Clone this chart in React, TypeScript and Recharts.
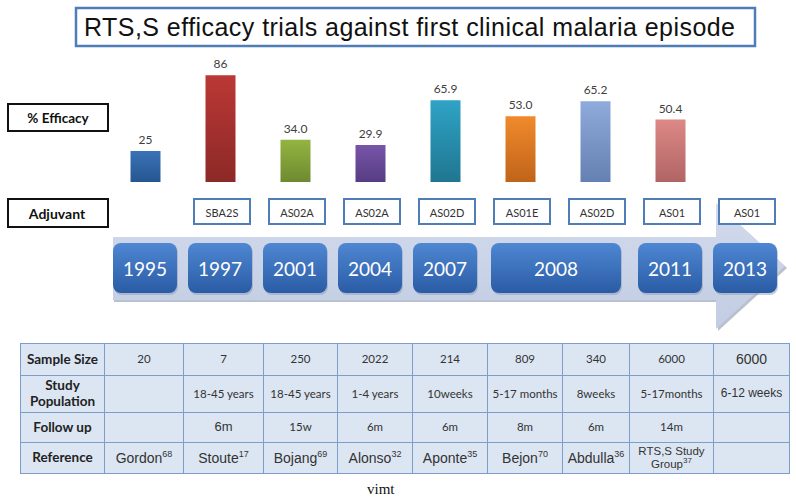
import React from 'react';
import { BarChart, Bar, XAxis, YAxis, Cell, LabelList } from 'recharts';

// ---------- data ----------
const years = ['1995', '1997', '2001', '2004', '2007', '2008', '2008', '2011', '2013'];
const efficacy: (number | null)[] = [25, 86, 34.0, 29.9, 65.9, 53.0, 65.2, 50.4, null];
const efficacyLabels = ['25', '86', '34.0', '29.9', '65.9', '53.0', '65.2', '50.4', ''];
const adjuvants = ['', 'SBA2S', 'AS02A', 'AS02A', 'AS02D', 'AS01E', 'AS02D', 'AS01', 'AS01'];
const barTop = ['#3b72b8', '#bb3835', '#93b442', '#7755a8', '#2fa3c6', '#f08a2c', '#8eabdb', '#dc8886', '#999'];
const barBottom = ['#25568f', '#8c2927', '#6e8a2f', '#573c83', '#1f7690', '#c0641a', '#6580b2', '#b06564', '#777'];

const sampleSize = ['20', '7', '250', '2022', '214', '809', '340', '6000', '6000'];
const population = ['', '18-45 years', '18-45 years', '1-4 years', '10weeks', '5-17 months', '8weeks', '5-17months', '6-12 weeks'];
const followUp = ['', '6m', '15w', '6m', '6m', '8m', '6m', '14m', ''];
const refNames = ['Gordon', 'Stoute', 'Bojang', 'Alonso', 'Aponte', 'Bejon', 'Abdulla', 'RTS,S Study Group', ''];
const refNums = ['68', '17', '69', '32', '35', '70', '36', '37', ''];
const rowHeaders = ['Sample Size', 'Study Population', 'Follow up', 'Reference'];

const titleText = 'RTS,S efficacy trials against first clinical malaria episode';

const data = years.map((y, i) => ({
  idx: i,
  year: y,
  efficacy: efficacy[i],
  label: efficacyLabels[i],
  adjuvant: adjuvants[i],
}));

// ---------- layout ----------
const W = 796;
const H = 499;
const PLOT_LEFT = 107.5;
const PLOT_RIGHT = 782.5;
const PLOT_TOP = 58;
const PLOT_BOTTOM = 182;
const AXIS_H = 130;
const BAND = (PLOT_RIGHT - PLOT_LEFT) / years.length;
const CAL = 'Lato, "Open Sans", sans-serif';
const ARIAL = '"Liberation Sans", Arial, sans-serif';

const colWidths = [84, 79, 80, 74, 75, 75, 75, 67, 84, 76];
const rowHeights = [32, 37, 30, 31];

function AxisTick(props: any) {
  const { x, y, payload } = props;
  const i = payload.value as number;
  const adj = adjuvants[i];
  const yr = years[i];
  const els: React.ReactNode[] = [];
  if (adj) {
    const w = 56;
    const cx = x + 2;
    els.push(
      <g key="adj">
        <rect x={cx - w / 2} y={y + 17} width={w} height={25} fill="#fff" stroke="#4f7db8" strokeWidth={2} />
        <text x={cx} y={y + 30} textAnchor="middle" dominantBaseline="central" fontFamily={CAL} fontSize={11} fill="#333">
          {adj}
        </text>
      </g>
    );
  }
  const prevSame = i > 0 && years[i - 1] === yr;
  const nextSame = i < years.length - 1 && years[i + 1] === yr;
  if (!prevSame) {
    let x0 = x - 32;
    let x1 = x + 32;
    if (nextSame) {
      x0 = x - 29;
      x1 = x + BAND + 26;
    }
    els.push(
      <g key="yr">
        <rect x={x0 + 1} y={y + 63} width={x1 - x0} height={50} rx={8} ry={8} fill="#8d9cb8" opacity={0.5} />
        <rect x={x0} y={y + 61} width={x1 - x0} height={50} rx={8} ry={8} fill="url(#yearGrad)" />
        <text x={(x0 + x1) / 2} y={y + 86} textAnchor="middle" dominantBaseline="central" fontFamily={CAL} fontSize={19} fill="#fff">
          {yr}
        </text>
      </g>
    );
  }
  return <g>{els}</g>;
}

const cellBase: React.CSSProperties = {
  border: '1px solid #7d9dcb',
  textAlign: 'center',
  verticalAlign: 'middle',
  padding: 0,
  color: '#333',
  fontFamily: CAL,
  fontSize: 11.5,
  lineHeight: 1.1,
};

export default function App() {
  const rows: React.ReactNode[][] = [
    sampleSize.map((v, i) => <span style={i === 8 ? { fontFamily: ARIAL, fontSize: 14 } : {}}>{v}</span>),
    population.map((v, i) => <span style={i === 8 ? { fontFamily: ARIAL, fontSize: 12 } : {}}>{v}</span>),
    followUp.map((v, i) => <span style={i === 1 ? { fontFamily: ARIAL, fontSize: 13 } : {}}>{v}</span>),
    refNames.map((v, i) =>
      v ? (
        i === 7 ? (
          <span style={{ fontFamily: ARIAL, fontSize: 11.5, lineHeight: 1.05, display: 'inline-block' }}>
            RTS,S Study
            <br />
            Group<sup style={{ fontSize: 8 }}>{refNums[i]}</sup>
          </span>
        ) : (
          <span style={{ fontFamily: ARIAL, fontSize: 14 }}>
            {v}
            <sup style={{ fontSize: 9 }}>{refNums[i]}</sup>
          </span>
        )
      ) : (
        ''
      )
    ),
  ];

  return (
    <div style={{ position: 'absolute', left: 0, top: 0, width: W, height: H, background: '#fff', overflow: 'hidden' }}>
      {/* background: title box, label boxes, timeline arrow */}
      <svg width={W} height={H} style={{ position: 'absolute', left: 0, top: 0 }}>
        <defs>
          <linearGradient id="arrowGrad" x1="0" y1="0" x2="0" y2="1">
            <stop offset="0%" stopColor="#d2daec" />
            <stop offset="100%" stopColor="#c2cde3" />
          </linearGradient>
        </defs>
        <rect x={76} y={8} width={679} height={38} fill="#fff" stroke="#4f7db8" strokeWidth={2.5} />
        <text x={84} y={36} fontFamily={ARIAL} fontSize={25} fill="#111" textLength={651} lengthAdjust="spacing">
          {titleText}
        </text>
        <rect x={8} y={104} width={100} height={27} fill="#fff" stroke="#111" strokeWidth={2} />
        <text x={58} y={118} textAnchor="middle" dominantBaseline="central" fontFamily={CAL} fontWeight={700} fontSize={13.5} fill="#111">
          % Efficacy
        </text>
        <rect x={8} y={199} width={100} height={28} fill="#fff" stroke="#111" strokeWidth={2} />
        <text x={57} y={213} textAnchor="middle" dominantBaseline="central" fontFamily={CAL} fontWeight={700} fontSize={14} fill="#111">
          Adjuvant
        </text>
        <polygon points="114,239 718,239 718,205 787,268 718,331 718,302 114,302" fill="#b9c1d0" />
        <polygon points="113,237 716,237 716,203 785,266 716,329 716,300 113,300" fill="url(#arrowGrad)" />
        <text x={367} y={494} fontFamily='"Liberation Serif", "Times New Roman", serif' fontSize={15} fill="#111">
          vimt
        </text>
      </svg>

      <div style={{ position: 'absolute', left: 0, top: 0 }}>
        <BarChart
          width={W}
          height={H}
          data={data}
          margin={{ top: PLOT_TOP, right: W - PLOT_RIGHT, left: PLOT_LEFT, bottom: H - PLOT_BOTTOM - AXIS_H }}
        >
          <defs>
            {barTop.map((c, i) => (
              <linearGradient key={i} id={`barGrad${i}`} x1="0" y1="0" x2="0" y2="1">
                <stop offset="0%" stopColor={c} />
                <stop offset="100%" stopColor={barBottom[i]} />
              </linearGradient>
            ))}
            <linearGradient id="yearGrad" x1="0" y1="0" x2="0" y2="1">
              <stop offset="0%" stopColor="#4f87d2" />
              <stop offset="100%" stopColor="#2a5ca5" />
            </linearGradient>
          </defs>
          <XAxis
            dataKey="idx"
            type="category"
            height={AXIS_H}
            axisLine={false}
            tickLine={false}
            tickSize={0}
            tickMargin={0}
            interval={0}
            tick={<AxisTick />}
          />
          <YAxis hide domain={[0, 100]} />
          <Bar dataKey="efficacy" barSize={30} isAnimationActive={false}>
            {data.map((d, i) => (
              <Cell key={i} fill={`url(#barGrad${i})`} />
            ))}
            <LabelList dataKey="label" position="top" offset={7} fill="#404040" fontSize={12} fontFamily={CAL} />
          </Bar>
        </BarChart>
      </div>

      <table
        style={{
          position: 'absolute',
          left: 20,
          top: 343,
          borderCollapse: 'collapse',
          tableLayout: 'fixed',
          width: colWidths.reduce((a, b) => a + b, 0),
          background: '#dce6f2',
        }}
      >
        <colgroup>
          {colWidths.map((w, i) => (
            <col key={i} style={{ width: w }} />
          ))}
        </colgroup>
        <tbody>
          {rows.map((cells, r) => (
            <tr key={r} style={{ height: rowHeights[r] }}>
              <td style={{ ...cellBase, fontWeight: 700, fontSize: 13.5, color: '#222', lineHeight: 1.15 }}>
                {r === 1 ? (
                  <>
                    Study
                    <br />
                    Population
                  </>
                ) : (
                  rowHeaders[r]
                )}
              </td>
              {cells.map((c, i) => (
                <td key={i} style={cellBase}>
                  {c}
                </td>
              ))}
            </tr>
          ))}
        </tbody>
      </table>
    </div>
  );
}
